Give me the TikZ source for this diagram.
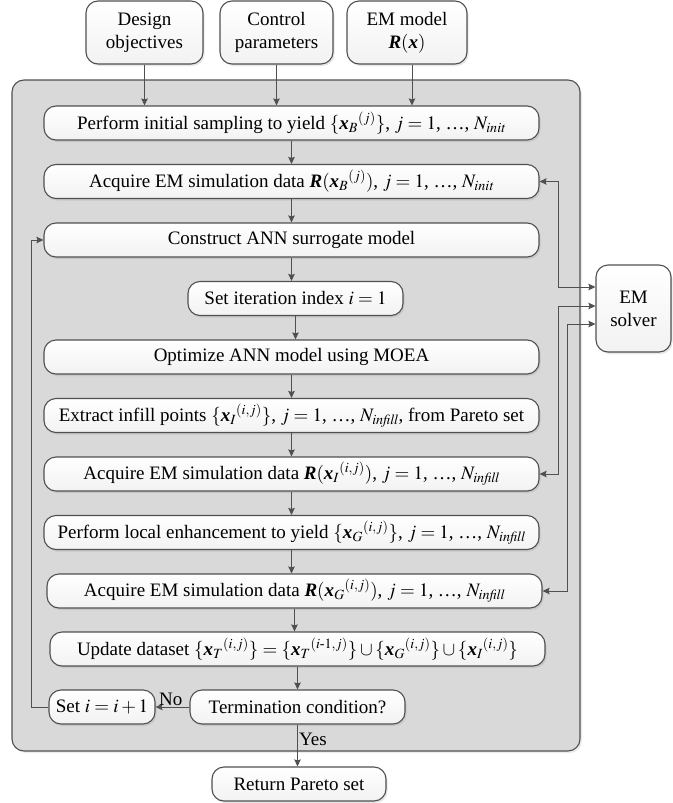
\documentclass[tikz,border=0pt]{standalone}
\usepackage{amsmath}
\usepackage{mathptmx}
\usepackage{fontspec}
\setmainfont{Liberation Serif}
\usepackage{tikz}
\usetikzlibrary{arrows.meta}
\usetikzlibrary{shadows}

\newcommand{\bx}{\mbox{\bfseries\itshape x}}
\newcommand{\bR}{\mbox{\bfseries\itshape R}}

\definecolor{edgegray}{HTML}{505050}
\definecolor{panelgray}{HTML}{D9D9D9}

\tikzset{
	basenode/.style = {
		align=center,
		inner sep=0pt,
		text centered,
		font=\fontsize{19}{23}\selectfont,
		rounded corners=12pt,
		draw=edgegray,
		line width=1.1pt,
		top color=white,
		bottom color=gray!10,
		drop shadow={shadow xshift=1.5pt, shadow yshift=-2pt, opacity=0.2}
	},
	node_in/.style = {
		basenode,
		minimum height=63pt
	},
	node_step/.style = {
		basenode,
		minimum width=495pt,
		minimum height=34pt
	},
	node_short/.style = {
		basenode,
		minimum height=34pt
	},
	node_solver/.style = {
		basenode,
		minimum width=75pt,
		minimum height=87pt
	},
	panel/.style = {
		fill=panelgray,
		draw=edgegray,
		line width=1.1pt,
		rounded corners=12pt,
		drop shadow={shadow xshift=2pt, shadow yshift=-2pt, opacity=0.15}
	},
	link/.style = {
		->,
		draw=edgegray,
		line width=1pt
	},
	link_both/.style = {
		link,
		<->
	},
	tag/.style = {
		font=\fontsize{19}{23}\selectfont,
		inner sep=1pt
	}
}

\begin{document}
\begin{tikzpicture}[x=1pt, y=-1pt, >={Stealth[length=7pt, width=6.5pt, inset=1pt]}]
\useasboundingbox (0,0) rectangle (672,803);
\draw[panel] (12,80) rectangle (580,751);

% inputs
\node[node_in, minimum width=117pt] (obj) at (144.5,32.5) {Design\\objectives};
\node[node_in, minimum width=113pt] (ctrl) at (276.5,32.5) {Control\\parameters};
\node[node_in, minimum width=120pt] (emmodel) at (407,32.5) {EM model\\$\bR(\bx)$};

% main flow
\node[node_step] (s1) at (291.5,123) {Perform initial sampling to yield $\{{\bx_B}^{(j)}\}$, $j = 1$, \ldots, $N_{\mathit{init}}$};
\node[node_step] (s2) at (291.5,181.5) {Acquire EM simulation data $\bR({\bx_B}^{(j)})$, $j = 1$, \ldots, $N_{\mathit{init}}$};
\node[node_step] (s3) at (291.5,240) {Construct ANN surrogate model};
\node[node_short, minimum width=215pt] (s4) at (295.5,298.5) {Set iteration index $i = 1$};
\node[node_step] (s5) at (291.5,357) {Optimize ANN model using MOEA};
\node[node_step] (s6) at (291.5,415.5) {Extract infill points $\{{\bx_I}^{(i,j)}\}$, $j = 1$, \ldots, $N_{\mathit{infill}}$, from Pareto set};
\node[node_step] (s7) at (291.5,474) {Acquire EM simulation data $\bR({\bx_I}^{(i,j)})$, $j = 1$, \ldots, $N_{\mathit{infill}}$};
\node[node_step] (s8) at (291.5,532.5) {Perform local enhancement to yield $\{{\bx_G}^{(i,j)}\}$, $j = 1$, \ldots, $N_{\mathit{infill}}$};
\node[node_step] (s9) at (294.5,591) {Acquire EM simulation data $\bR({\bx_G}^{(i,j)})$, $j = 1$, \ldots, $N_{\mathit{infill}}$};
\node[node_step] (s10) at (297.5,649) {Update dataset $\{{\bx_T}^{(i,j)}\} = \{{\bx_T}^{(i\text{-}1,j)}\}\cup\{{\bx_G}^{(i,j)}\}\cup\{{\bx_I}^{(i,j)}\}$};
\node[node_short, minimum width=215pt] (term) at (297.5,707) {Termination condition?};
\node[node_short, minimum width=106pt] (seti) at (102,707) {Set $i = i + 1$};
\node[node_short, minimum width=174pt] (ret) at (299,784) {Return Pareto set};
\node[node_solver] (solver) at (633.5,308.5) {EM\\solver};

% inputs into the loop
\draw[link] (obj.south) -- (obj.south |- s1.north);
\draw[link] (ctrl.south) -- (ctrl.south |- s1.north);
\draw[link] ([xshift=5pt]emmodel.south) -- ([xshift=5pt]emmodel.south |- s1.north);

% down the chain
\foreach \a/\b in {s1/s2, s2/s3, s3/s4, s4/s5, s5/s6, s6/s7, s7/s8, s8/s9, s9/s10, s10/term}
	\draw[link] (\a.south) -- (\a.south |- \b.north);
\draw[link] (term.south) -- node[tag, right, pos=0.35] {Yes} (term.south |- ret.north);
\draw[link] (term.west) -- node[tag, above, pos=0.55] {No} (seti.east);
\draw[link] (seti.west) -- ++(-17,0) |- (s3.west);

% EM solver calls
\draw[link_both] (s2.east) -- ++(19,0) |- ([yshift=21.5pt]solver.west);
\draw[link_both] (s7.east) -- ++(19,0) |- ([yshift=2.5pt]solver.west);
\draw[link_both] (s9.east) -- ++(25,0) |- ([yshift=-15.5pt]solver.west);
\end{tikzpicture}
\end{document}
